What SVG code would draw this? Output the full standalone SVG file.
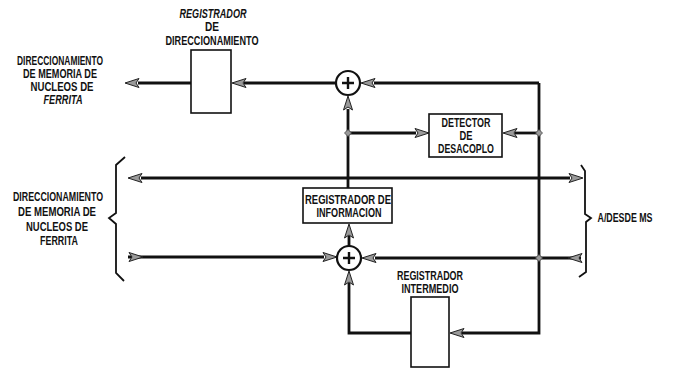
<svg xmlns="http://www.w3.org/2000/svg" xmlns:xlink="http://www.w3.org/1999/xlink" width="674" height="370" viewBox="0 0 674 370">
<style>
.t{font-family:"Liberation Sans",Arial,sans-serif;font-size:12px;font-weight:bold;fill:#111;text-anchor:middle}
.i{font-style:italic}
.box{fill:#fff;stroke:#111;stroke-width:1.6}
.ln{fill:none;stroke:#111;stroke-width:2.8;stroke-linejoin:miter}
.br{fill:none;stroke:#111;stroke-width:1.8}
.sum{fill:#fff;stroke:#111;stroke-width:2.2}
.plus{stroke:#111;stroke-width:2.4}
.dot{fill:#999;stroke:#444;stroke-width:0.8}
</style>
<defs>
<path id="ah" d="M0,0 L-14,-4.5 L-11,0 L-14,4.5 Z" fill="#9a9a9a" stroke="#222" stroke-width="1"/>
</defs>
<rect width="674" height="370" fill="#fff"/>

<g id="connectors">
  <path class="ln" d="M191,83 H138"/>
  <path class="ln" d="M336,83 H244"/>
  <path class="ln" d="M539,83 H374"/>
  <path class="ln" d="M539,83 V333 H462"/>
  <path class="ln" d="M411,333 H349 V283"/>
  <path class="ln" d="M349,246 V236"/>
  <path class="ln" d="M348,188 V109"/>
  <path class="ln" d="M348,133 H416"/>
  <path class="ln" d="M539,133 H515"/>
  <path class="ln" d="M141,178 H570"/>
  <path class="ln" d="M128,257 H324"/>
  <path class="ln" d="M581,258 H375"/>
  <use xlink:href="#ah" transform="translate(125,83) rotate(180)"/>
  <use xlink:href="#ah" transform="translate(232,83) rotate(180)"/>
  <use xlink:href="#ah" transform="translate(361,83) rotate(180)"/>
  <use xlink:href="#ah" transform="translate(348,96) rotate(-90)"/>
  <use xlink:href="#ah" transform="translate(429,133)"/>
  <use xlink:href="#ah" transform="translate(503,133) rotate(180)"/>
  <use xlink:href="#ah" transform="translate(128,178) rotate(180)"/>
  <use xlink:href="#ah" transform="translate(583,178)"/>
  <use xlink:href="#ah" transform="translate(143,257)"/>
  <use xlink:href="#ah" transform="translate(337,257)"/>
  <use xlink:href="#ah" transform="translate(362,258) rotate(180)"/>
  <use xlink:href="#ah" transform="translate(568,258) rotate(180)"/>
  <use xlink:href="#ah" transform="translate(349,224) rotate(-90)"/>
  <use xlink:href="#ah" transform="translate(349,271) rotate(-90)"/>
  <use xlink:href="#ah" transform="translate(450,333) rotate(180)"/>
  <path class="dot" d="M348,129.5 L351.5,133 L348,136.5 L344.5,133 Z"/>
  <path class="dot" d="M539,129.5 L542.5,133 L539,136.5 L535.5,133 Z"/>
  <path class="dot" d="M539,254.5 L542.5,258 L539,261.5 L535.5,258 Z"/>
</g>

<g id="label-left-top">
  <text class="t" x="60" y="65" textLength="86" lengthAdjust="spacingAndGlyphs">DIRECCIONAMIENTO</text>
  <text class="t" x="60" y="78" textLength="74" lengthAdjust="spacingAndGlyphs">DE MEMORIA DE</text>
  <text class="t" x="62" y="91" textLength="63" lengthAdjust="spacingAndGlyphs">NUCLEOS DE</text>
  <text class="t i" x="63" y="104" textLength="39" lengthAdjust="spacingAndGlyphs">FERRITA</text>
</g>

<g id="reg-direccionamiento">
  <text class="t i" x="213" y="18" textLength="67" lengthAdjust="spacingAndGlyphs">REGISTRADOR</text>
  <text class="t" x="212" y="31" textLength="14" lengthAdjust="spacingAndGlyphs">DE</text>
  <text class="t" x="212" y="45" textLength="93" lengthAdjust="spacingAndGlyphs">DIRECCIONAMIENTO</text>
  <rect class="box" x="191" y="50" width="40" height="63"/>
</g>

<g id="sum-top">
  <circle class="sum" cx="348" cy="83" r="12"/>
  <path class="plus" d="M342,83 H354 M348,77 V89"/>
</g>

<g id="detector">
  <rect class="box" x="429" y="114" width="73" height="43"/>
  <text class="t" x="466" y="127" textLength="49" lengthAdjust="spacingAndGlyphs">DETECTOR</text>
  <text class="t" x="466" y="140" textLength="13" lengthAdjust="spacingAndGlyphs">DE</text>
  <text class="t" x="466" y="153" textLength="56" lengthAdjust="spacingAndGlyphs">DESACOPLO</text>
</g>

<g id="label-left-bottom">
  <path class="br" d="M125,157 L116,165 V213 L109,218 L116,224 V273 L124,281"/>
  <text class="t" x="58" y="201" textLength="90" lengthAdjust="spacingAndGlyphs">DIRECCIONAMIENTO</text>
  <text class="t" x="57" y="216" textLength="78" lengthAdjust="spacingAndGlyphs">DE MEMORIA DE</text>
  <text class="t" x="57" y="231" textLength="62" lengthAdjust="spacingAndGlyphs">NUCLEOS DE</text>
  <text class="t" x="59" y="245" textLength="38" lengthAdjust="spacingAndGlyphs">FERRITA</text>
</g>

<g id="reg-informacion">
  <rect class="box" x="303" y="188" width="89" height="35"/>
  <text class="t" x="348" y="204" textLength="86" lengthAdjust="spacingAndGlyphs">REGISTRADOR DE</text>
  <text class="t" x="349" y="217" textLength="65" lengthAdjust="spacingAndGlyphs">INFORMACION</text>
</g>

<g id="sum-bottom">
  <circle class="sum" cx="349" cy="258" r="12"/>
  <path class="plus" d="M343,258 H355 M349,252 V264"/>
</g>

<g id="label-ms">
  <path class="br" d="M581,165 L585,171 V214 L591,218 L586,222 V272 L579,277"/>
  <text class="t" x="625" y="222" textLength="55" lengthAdjust="spacingAndGlyphs">A/DESDE MS</text>
</g>

<g id="reg-intermedio">
  <text class="t" x="430" y="280" textLength="66" lengthAdjust="spacingAndGlyphs">REGISTRADOR</text>
  <text class="t" x="430" y="293" textLength="57" lengthAdjust="spacingAndGlyphs">INTERMEDIO</text>
  <rect class="box" x="411" y="297" width="38" height="70"/>
</g>
</svg>
